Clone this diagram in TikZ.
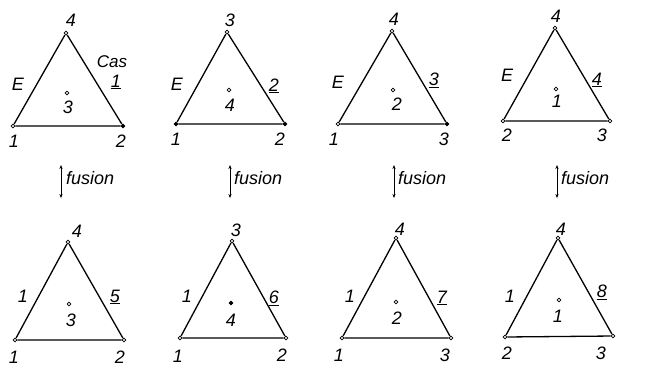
\documentclass[tikz,border=0pt]{standalone}
\usepackage{fontspec}
\setmainfont{Liberation Sans}
\usetikzlibrary{arrows.meta}

\begin{document}
\begin{tikzpicture}[
      x=1pt, y=-1pt,
      sommet/.style={circle, draw, fill=white, inner sep=0pt, minimum size=3.8pt, line width=0.8pt},
      plein/.style={sommet, fill=black},
      arete/.style={line width=1.3pt},
      chiffre/.style={font=\itshape\fontsize{18}{18}\selectfont, inner sep=0pt},
      legende/.style={font=\itshape\fontsize{18}{18}\selectfont, inner sep=0pt},
      fleche/.style={<->, >={Stealth[length=4pt,width=3.2pt]}, line width=1pt}
    ]
    \useasboundingbox (0,0) rectangle (646,376);

    % rangee du haut : cas 1 a 4
    \node[sommet] (h1a) at (66,33)   {};
    \node[sommet] (h1b) at (13,126)  {};
    \node[plein]  (h1c) at (123,126) {};
    \node[sommet] (h1m) at (67,93)   {};
    \draw[arete] (h1b) -- (h1a) -- (h1c) -- (h1b);
    \node[chiffre] (h1an) at (71,20)  {4};
    \node[chiffre] (h1bn) at (14,141) {1};
    \node[chiffre] (h1cn) at (121,141){2};
    \node[chiffre] (h1mn) at (68,107) {3};
    \node[chiffre] (h1e)  at (18,84)  {E};
    \node[legende, font=\itshape\fontsize{17}{17}\selectfont] (h1cas) at (112,62){Cas};
    \node[chiffre] (h1k)  at (116,82) {\underline{1}};

    \node[sommet] (h2a) at (227,32)  {};
    \node[plein]  (h2b) at (176,124) {};
    \node[plein]  (h2c) at (285,124) {};
    \node[sommet] (h2m) at (229,90)  {};
    \draw[arete] (h2b) -- (h2a) -- (h2c) -- (h2b);
    \node[chiffre] (h2an) at (230,20) {3};
    \node[chiffre] (h2bn) at (176,139){1};
    \node[chiffre] (h2cn) at (280,139){2};
    \node[chiffre] (h2mn) at (230,105){4};
    \node[chiffre] (h2e)  at (177,84) {E};
    \node[chiffre] (h2k)  at (274,86) {\underline{2}};

    \node[sommet] (h3a) at (392,31)  {};
    \node[sommet] (h3b) at (338,124) {};
    \node[plein]  (h3c) at (447,124) {};
    \node[sommet] (h3m) at (393,90)  {};
    \draw[arete] (h3b) -- (h3a) -- (h3c) -- (h3b);
    \node[chiffre] (h3an) at (394,19) {4};
    \node[chiffre] (h3bn) at (334,139){1};
    \node[chiffre] (h3cn) at (444,139){3};
    \node[chiffre] (h3mn) at (397,104){2};
    \node[chiffre] (h3e)  at (338,82) {E};
    \node[chiffre] (h3k)  at (434,80) {\underline{3}};

    \node[sommet] (h4a) at (555,28)  {};
    \node[sommet] (h4b) at (503,121) {};
    \node[sommet] (h4c) at (610,121) {};
    \node[sommet] (h4m) at (556,89)  {};
    \draw[arete] (h4b) -- (h4a) -- (h4c) -- (h4b);
    \node[chiffre] (h4an) at (556,16) {4};
    \node[chiffre] (h4bn) at (507,135){2};
    \node[chiffre] (h4cn) at (602,135){3};
    \node[chiffre] (h4mn) at (557,101){1};
    \node[chiffre] (h4e)  at (507,75) {E};
    \node[chiffre] (h4k)  at (597,80) {\underline{4}};

    % fusion
    \coordinate (f1h) at (61,165);  \coordinate (f1b) at (61,198);
    \coordinate (f2h) at (230,165); \coordinate (f2b) at (230,198);
    \coordinate (f3h) at (394,165); \coordinate (f3b) at (394,198);
    \coordinate (f4h) at (557,165); \coordinate (f4b) at (557,198);
    \draw[fleche] (f1h) -- (f1b);
    \draw[fleche] (f2h) -- (f2b);
    \draw[fleche] (f3h) -- (f3b);
    \draw[fleche] (f4h) -- (f4b);
    \node[legende, anchor=west] (f1t) at (66,178)  {fusion};
    \node[legende, anchor=west] (f2t) at (234,178) {fusion};
    \node[legende, anchor=west] (f3t) at (398,178) {fusion};
    \node[legende, anchor=west] (f4t) at (561,178) {fusion};

    % rangee du bas : cas 5 a 8
    \node[sommet] (b1a) at (68,242)  {};
    \node[sommet] (b1b) at (15,340)  {};
    \node[sommet] (b1c) at (124,340) {};
    \node[sommet] (b1m) at (69,304)  {};
    \draw[arete] (b1b) -- (b1a) -- (b1c) -- (b1b);
    \node[chiffre] (b1an) at (77,231) {4};
    \node[chiffre] (b1bn) at (14,357) {1};
    \node[chiffre] (b1cn) at (120,357){2};
    \node[chiffre] (b1mn) at (71,320) {3};
    \node[chiffre] (b1e)  at (23,296) {1};
    \node[chiffre] (b1k)  at (115,297){\underline{5}};

    \node[sommet] (b2a) at (232,241) {};
    \node[sommet] (b2b) at (180,338) {};
    \node[sommet] (b2c) at (286,338) {};
    \node[plein]  (b2m) at (231,303) {};
    \draw[arete] (b2b) -- (b2a) -- (b2c) -- (b2b);
    \node[chiffre] (b2an) at (236,230){3};
    \node[chiffre] (b2bn) at (178,356){1};
    \node[chiffre] (b2cn) at (282,355){2};
    \node[chiffre] (b2mn) at (231,320){4};
    \node[chiffre] (b2e)  at (187,296){1};
    \node[chiffre] (b2k)  at (274,298){\underline{6}};

    \node[sommet] (b3a) at (396,238) {};
    \node[sommet] (b3b) at (342,338) {};
    \node[sommet] (b3c) at (451,338) {};
    \node[sommet] (b3m) at (396,302) {};
    \draw[arete] (b3b) -- (b3a) -- (b3c) -- (b3b);
    \node[chiffre] (b3an) at (400,229){4};
    \node[chiffre] (b3bn) at (339,355){1};
    \node[chiffre] (b3cn) at (445,355){3};
    \node[chiffre] (b3mn) at (397,318){2};
    \node[chiffre] (b3e)  at (350,296){1};
    \node[chiffre] (b3k)  at (442,298){\underline{7}};

    \node[sommet] (b4a) at (558,238) {};
    \node[sommet] (b4b) at (505,337) {};
    \node[sommet] (b4c) at (613,336) {};
    \node[sommet] (b4m) at (559,300) {};
    \draw[arete] (b4b) -- (b4a) -- (b4c) -- (b4b);
    \node[chiffre] (b4an) at (561,229){4};
    \node[chiffre] (b4bn) at (507,353){2};
    \node[chiffre] (b4cn) at (601,353){3};
    \node[chiffre] (b4mn) at (558,316){1};
    \node[chiffre] (b4e)  at (510,296){1};
    \node[chiffre] (b4k)  at (602,292){\underline{8}};
  \end{tikzpicture}
\end{document}
